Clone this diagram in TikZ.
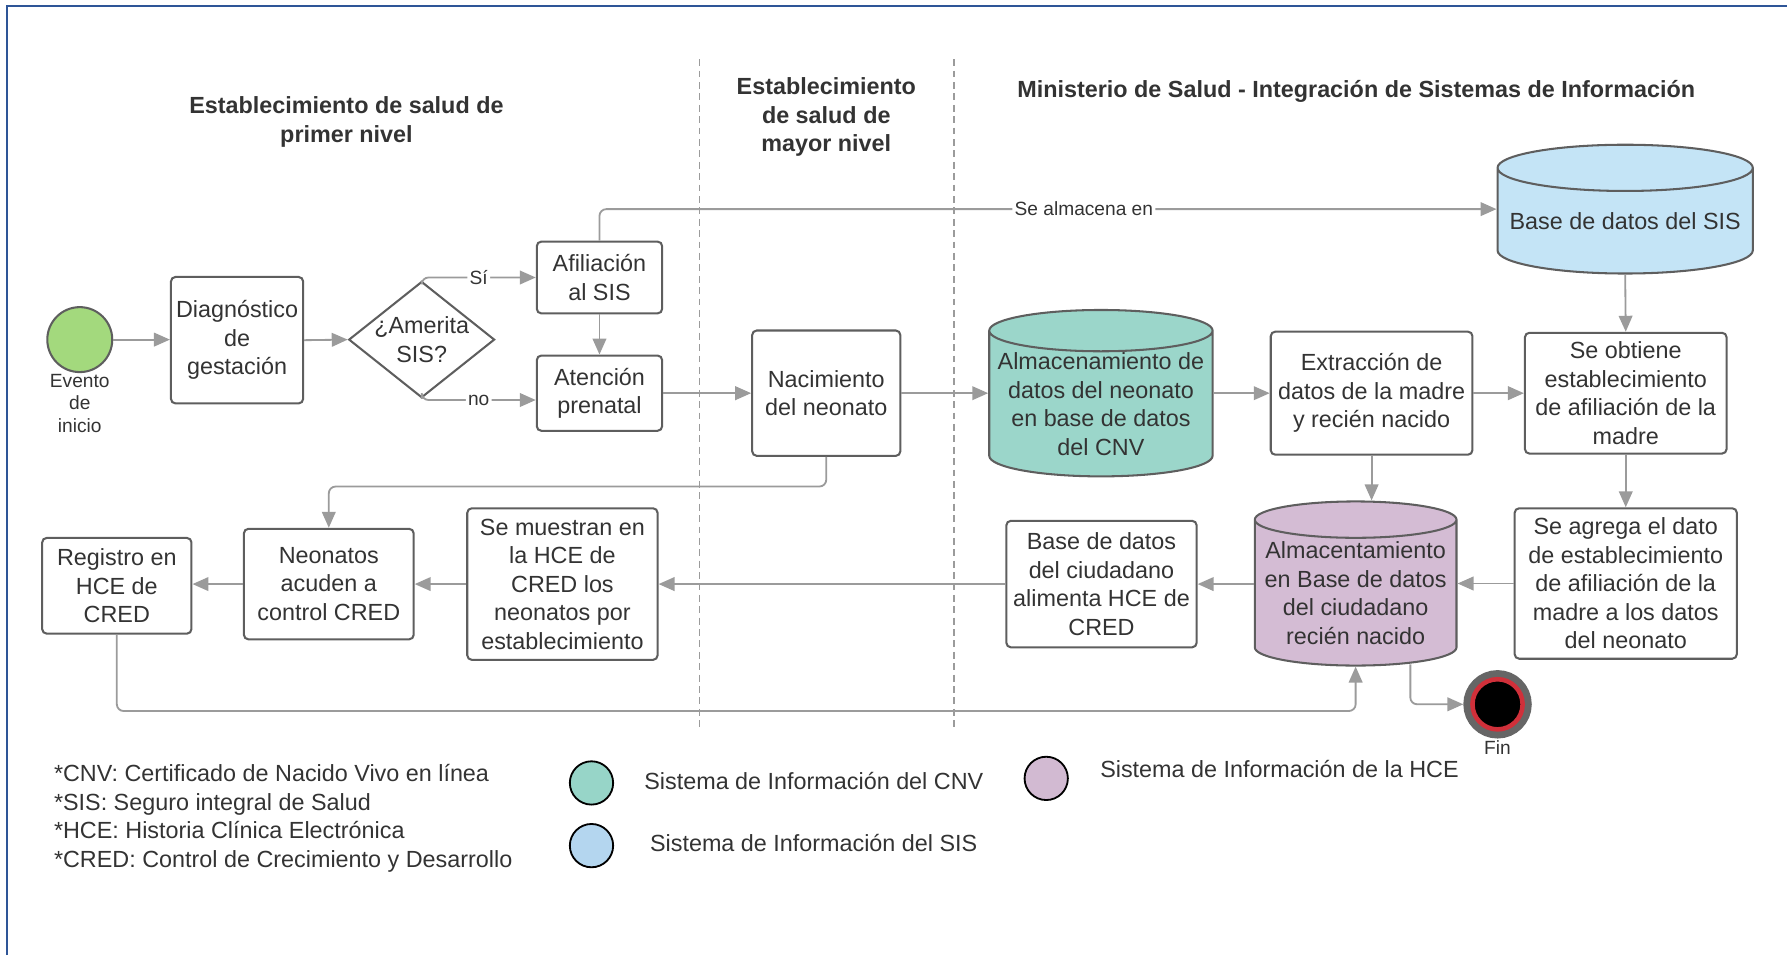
\documentclass[tikz,border=0pt]{standalone}
\usepackage{fontspec}
\setmainfont{Liberation Sans}
\usetikzlibrary{shapes.geometric,arrows.meta,calc}
\definecolor{txt}{HTML}{333333}
\definecolor{edge}{HTML}{5E5E5E}
\definecolor{flow}{HTML}{9B9B9B}
\definecolor{frame}{HTML}{2E5597}
\definecolor{cnvfill}{HTML}{9BD6CA}
\definecolor{sisfill}{HTML}{C4E4F6}
\definecolor{hcefill}{HTML}{D4BCD4}
\definecolor{startfill}{HTML}{A3D97D}
\definecolor{cnvkey}{HTML}{97D5C8}
\definecolor{siskey}{HTML}{B4D6EF}
\definecolor{hcekey}{HTML}{D2BAD2}
\definecolor{finred}{HTML}{D0303A}
\definecolor{fingray}{HTML}{666666}
\begin{document}
\begin{tikzpicture}[x=0.5pt,y=0.5pt,font=\fontsize{10.25}{12.5}\selectfont,text=txt]
\tikzstyle{every node}+=[inner sep=0pt,align=center]
\tikzstyle{proc}=[draw=edge,line width=0.9pt,rounded corners=2pt,fill=white]
\tikzstyle{db}=[cylinder,shape border rotate=90,aspect=0.2,draw=edge,line width=0.9pt]
\tikzstyle{flowline}=[flow,line width=0.8pt,-{Triangle[length=7pt,width=6pt]}]
\tikzstyle{small}=[font=\fontsize{8.4}{10}\selectfont]
\tikzstyle{lbl}=[small,text=txt,fill=white,inner sep=1pt]
\tikzstyle{title}=[font=\fontsize{10.25}{12.5}\selectfont\bfseries]
\tikzstyle{keydot}=[circle,draw=black,line width=0.8pt,minimum size=19pt]
\tikzstyle{lane}=[dashed,dash pattern=on 3pt off 2pt,draw=flow,line width=0.6pt]
\useasboundingbox (0,0) rectangle (1568,-838);
\draw [frame,line width=1pt] (6,-838) -- (6,-5) -- (1568,-5);
\draw [lane] (614,-52) -- (614,-638);
\draw [lane] (837,-52) -- (837,-638);
\node (t1) at (304,-107) [title] {Establecimiento de salud de\\primer nivel};
\node (t2) at (725,-103) [title] {Establecimiento\\de salud de\\mayor nivel};
\node (t3) at (1190,-80) [title] {Ministerio de Salud - Integración de Sistemas de Información};
\node (start) at (70,-298) [circle,fill=startfill,draw=edge,line width=0.9pt,minimum size=28.5pt] {};
\node (startlbl) at (70,-354) [small] {Evento\\de\\inicio};
\node (diag) at (208,-298.5) [proc,minimum width=58pt,minimum height=55.5pt] {Diagnóstico\\de\\gestación};
\node (amer) at (370,-298) [diamond,draw=edge,line width=0.9pt,fill=white,minimum width=64pt,minimum height=51pt,label={center:{¿Amerita\\SIS?}}] {};
\node (afil) at (526,-243.5) [proc,minimum width=55pt,minimum height=31.5pt] {Afiliación\\al SIS};
\node (aten) at (526,-345) [proc,minimum width=55pt,minimum height=33pt] {Atención\\prenatal};
\node (nac) at (725,-345) [proc,minimum width=65pt,minimum height=55pt] {Nacimiento\\del neonato};
\node (cnv) at (966,-345) [db,fill=cnvfill,anchor=shape center,minimum width=98pt,minimum height=73pt] {Almacenamiento de\\datos del neonato\\en base de datos\\del CNV};
\node (ext) at (1203.5,-345) [proc,minimum width=88.5pt,minimum height=54pt] {Extracción de\\datos de la madre\\y recién nacido};
\node (sis) at (1426,-183.5) [db,fill=sisfill,anchor=shape center,minimum width=112pt,minimum height=56.5pt] {Base de datos del SIS};
\node (obt) at (1426.5,-345) [proc,minimum width=88.5pt,minimum height=53pt] {Se obtiene\\establecimiento\\de afiliación de la\\madre};
\node (agr) at (1426.5,-512) [proc,minimum width=97.5pt,minimum height=66pt] {Se agrega el dato\\de establecimiento\\de afiliación de la\\madre a los datos\\del neonato};
\node (hce) at (1189.5,-512) [db,fill=hcefill,anchor=shape center,minimum width=88.5pt,minimum height=72pt] {Almacentamiento\\en Base de datos\\del ciudadano\\recién nacido};
\node (ciu) at (966.5,-512.5) [proc,minimum width=83.5pt,minimum height=55.5pt] {Base de datos\\del ciudadano\\alimenta HCE de\\CRED};
\node (mue) at (493.5,-512.5) [proc,minimum width=83.5pt,minimum height=66.5pt] {Se muestran en\\la HCE de\\CRED los\\neonatos por\\establecimiento};
\node (neo) at (288.5,-512.5) [proc,minimum width=74.5pt,minimum height=48.5pt] {Neonatos\\acuden a\\control CRED};
\node (reg) at (102.5,-514) [proc,minimum width=65.5pt,minimum height=42pt] {Registro en\\HCE de\\CRED};
\node (fin) at (1314,-618) [circle,fill=black,draw=finred,line width=2pt,minimum size=22pt,outer sep=4pt,preaction={draw=fingray,line width=8pt}] {};
\node (finlbl) at (1314,-656) [small] {Fin};
\draw [flowline] (start.east) -- (diag.west |- start.east);
\draw [flowline] (diag.east) -- (amer.west);
\draw [flowline,rounded corners=3pt] (amer.north) |- node [lbl,pos=0.75] {Sí} (afil.west);
\draw [flowline,rounded corners=3pt] (amer.south) |- node [lbl,pos=0.75] {no} ($(aten.west)+(0,-6)$);
\draw [flowline] (afil) -- (aten);
\draw [flowline,rounded corners=3pt] (afil.north) |- node [lbl,pos=0.77] {Se almacena en} (sis.west |- sis.shape center);
\draw [flowline] (aten) -- (nac);
\draw [flowline] (nac.east) -- (nac.east -| cnv.west);
\draw [flowline] (ext.west -| cnv.east) -- (ext.west);
\draw [flowline] (ext) -- (obt);
\draw [flowline] (sis.south) -- (obt.north);
\draw [flowline] (obt) -- (agr);
\draw [flowline] (agr.west) -- (agr.west -| hce.east);
\draw [flowline] (ext.south) -- (ext.south |- hce.north);
\draw [flowline] (hce.west |- ciu.east) -- (ciu.east);
\draw [flowline] (ciu) -- (mue);
\draw [flowline] (mue) -- (neo);
\draw [flowline] (neo.west) -- (neo.west -| reg.east);
\draw [flowline,rounded corners=3pt] (nac.south) -- ++(0,-26) -| (neo.north);
\draw [flowline,rounded corners=3pt] (reg.south) -- ++(0,-67) -| (hce.south);
\draw [flowline,rounded corners=3pt] ($(hce.south)+(48,2)$) |- (fin.west);
\node (keycnv) at (519,-687) [keydot,fill=cnvkey] {};
\node (keysis) at (519,-742) [keydot,fill=siskey] {};
\node (keyhce) at (918,-683) [keydot,fill=hcekey] {};
\node (cnvtxt) at (565,-685) [anchor=west] {Sistema de Información del CNV};
\node (sistxt) at (570,-740) [anchor=west] {Sistema de Información del SIS};
\node (hcetxt) at (965,-675) [anchor=west] {Sistema de Información de la HCE};
\node (notes) at (47,-718) [anchor=west,align=left] {*CNV: Certificado de Nacido Vivo en línea\\*SIS: Seguro integral de Salud\\*HCE: Historia Clínica Electrónica\\*CRED: Control de Crecimiento y Desarrollo};
\end{tikzpicture}
\end{document}
